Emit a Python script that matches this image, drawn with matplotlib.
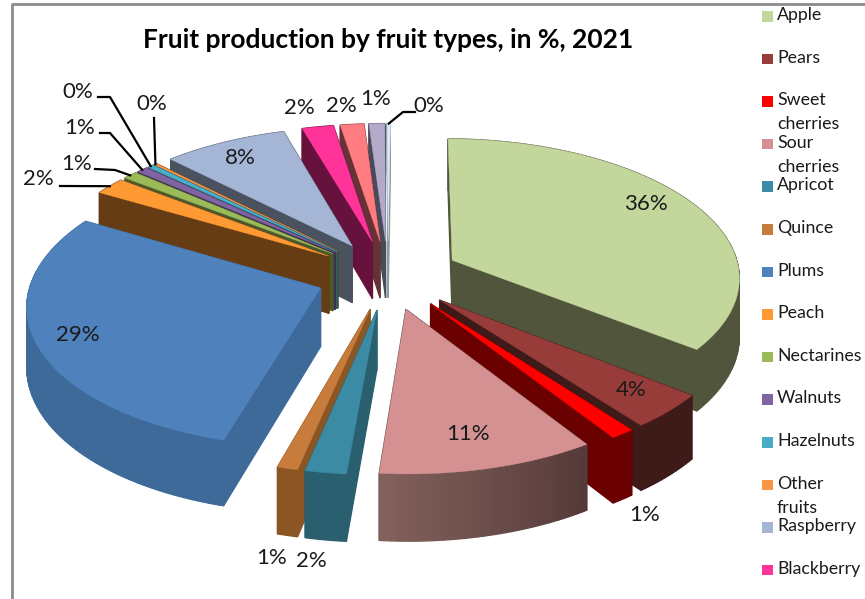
import numpy as np
import matplotlib
matplotlib.use("Agg")
import matplotlib.pyplot as plt
from matplotlib.patches import Rectangle
from matplotlib.colors import to_rgb

# Slices in drawing order, clockwise from 12 o'clock
values = [35.5, 4, 1.2, 10.6, 2, 1, 29, 2, 0.9, 0.7, 0.4, 0.2, 7.9, 2.0, 1.5, 1.0, 0.2]
legend_names = ["Apple", "Pears", "Sweet\ncherries", "Sour\ncherries", "Apricot", "Quince", "Plums",
                "Peach", "Nectarines", "Walnuts", "Hazelnuts", "Other\nfruits", "Raspberry", "Blackberry"]

top_colors = ["#c3d69b", "#983c3a", "#ff0000", "#d59191", "#3b8ba5", "#c77c3c", "#4f81bd", "#ff9933",
              "#9bbb59", "#8064a2", "#4bacc6", "#f79646", "#a5b5d6", "#ff3399", "#ff7c80", "#b3a9c9", "#dbeef4"]
wall_colors = ["#50553c", "#3e1a18", "#6b0000", "#553a3a", "#2a5f70", "#8b5524", "#3e6a9a", "#663c14",
               "#4a5a2a", "#3c3050", "#2a5f70", "#663c14", "#4a5260", "#66123c", "#663238", "#4b4a5a", "#8a9aa0"]
# inner (lighter) colour for the curved wall, only the sour cherries one really shows it
arc_start_colors = dict(enumerate(wall_colors))
arc_start_colors[3] = "#82605c"

# label position for the ones printed on or next to their slice
label_pos = {0: (646, 204), 1: (631, 390), 2: (645, 515), 3: (468, 434), 4: (311, 561), 5: (272, 558),
             6: (78, 335), 12: (240, 158), 13: (299, 108), 14: (341, 106), 15: (376, 99)}
# labels with leader lines: text position, elbow points
leaders = {7: ((38, 179), [(60, 186)]),
           8: ((77, 164), [(95, 169), (115, 170)]),
           9: ((80, 128), [(100, 133), (110, 133)]),
           10: ((78, 92), [(98, 97), (110, 97)]),
           11: ((152, 104), [(154, 118)]),
           16: ((429, 106), [(415, 112), (403, 112)])}

cx, cy = 388, 275
R, A, D = 288, 138, 58
persp = 9.0
explode = 0.25
start_angle = np.radians(0.5)


def project(X, Y, z=0.0):
    s = persp / (persp + Y)
    return cx + R * X * s, cy - A * Y * s + z * D * s


total = sum(values)
edges = start_angle + np.concatenate([[0], np.cumsum(values)]) / total * 2 * np.pi

fig = plt.figure(figsize=(8.65, 5.99), dpi=100)
ax = fig.add_axes([0, 0, 1, 1])
ax.set_xlim(0, 865)
ax.set_ylim(599, 0)
ax.axis("off")
plt.rcParams["font.family"] = ["Lato", "DejaVu Sans"]

# chart frame, cut off at the right and bottom
ax.plot([12, 12, 865], [599, 3.5, 3.5], color="#8c8c8c", lw=2, solid_capstyle="butt")

slices = []
for i, v in enumerate(values):
    a0, a1 = edges[i], edges[i + 1]
    mid = (a0 + a1) / 2
    ox, oy = explode * np.sin(mid), explode * np.cos(mid)
    t = np.linspace(a0, a1, max(3, int((a1 - a0) * 60)))
    slices.append((oy + np.cos(mid) * 0.5, i, ox, oy, t))

outer_pts = {}
for _, i, ox, oy, t in sorted(slices, key=lambda q: -q[0]):
    arc_x = ox + np.sin(t)
    arc_y = oy + np.cos(t)
    outer_pts[i] = (arc_x, arc_y)

    # flat walls and curved wall, far pieces first
    faces = []
    for px, py in [(arc_x[0], arc_y[0]), (arc_x[-1], arc_y[-1])]:
        x0, y0 = project(ox, oy)
        x1, y1 = project(px, py)
        x2, y2 = project(px, py, 1)
        x3, y3 = project(ox, oy, 1)
        faces.append(((oy + py) / 2, [x0, x1, x2, x3], [y0, y1, y2, y3], wall_colors[i]))
    c0 = np.array(to_rgb(arc_start_colors[i]))
    c1 = np.array(to_rgb(wall_colors[i]))
    n = len(t) - 1
    for k in range(n):
        # colour runs from the far end of the arc to the near end of it
        col = c1 + (c0 - c1) * k / max(n - 1, 1)
        x0, y0 = project(arc_x[k], arc_y[k])
        x1, y1 = project(arc_x[k + 1], arc_y[k + 1])
        x2, y2 = project(arc_x[k + 1], arc_y[k + 1], 1)
        x3, y3 = project(arc_x[k], arc_y[k], 1)
        faces.append(((arc_y[k] + arc_y[k + 1]) / 2, [x0, x1, x2, x3], [y0, y1, y2, y3], col))
    for _, fx, fy, col in sorted(faces, key=lambda f: -f[0]):
        ax.fill(fx, fy, color=col, lw=0.9)

    tx, ty = project(np.r_[ox, arc_x], np.r_[oy, arc_y])
    ax.fill(tx, ty, color=top_colors[i], lw=0.3)

text_color = "#1a1a1a"
for i, (x, y) in label_pos.items():
    ax.text(x, y, f"{values[i]:.0f}%", fontsize=16, color=text_color, ha="center", va="center")

for i, (pos, elbow) in leaders.items():
    ax.text(pos[0], pos[1], f"{values[i]:.0f}%", fontsize=16, color=text_color, ha="center", va="center")
    # leader ends at the middle of the slice's outer edge
    arc_x, arc_y = outer_pts[i]
    m = len(arc_x) // 2
    ex, ey = project(arc_x[m], arc_y[m])
    ax.plot([p[0] for p in elbow] + [ex], [p[1] for p in elbow] + [ey], color="black", lw=1.6)

ax.text(388, 40, "Fruit production by fruit types, in %, 2021", fontsize=19, fontweight="bold",
        color="black", ha="center", va="center")

# legend is built by hand so the entries keep their even spacing and overlap when wrapped
for i, name in enumerate(legend_names):
    y = 16 + 42.6 * i
    ax.add_patch(Rectangle((762, y - 5), 10.5, 10.5, color=top_colors[i], lw=0))
    ax.text(777, y - 9, name, fontsize=12.8, color="#1a1a1a", ha="left", va="top", linespacing=1.62)

fig.savefig("out.png", dpi=100)
